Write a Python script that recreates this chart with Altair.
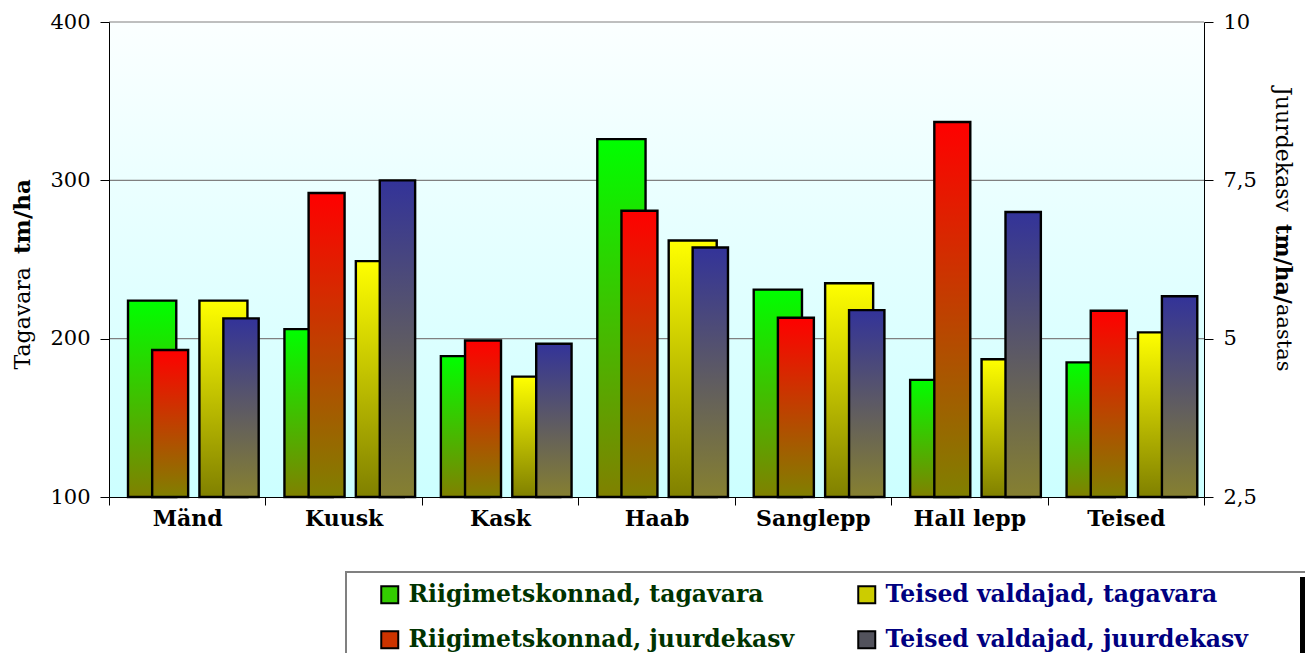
import json
import pandas as pd
import altair as alt

# ---- data ----
categories = ["Mänd", "Kuusk", "Kask", "Haab", "Sanglepp", "Hall lepp", "Teised"]
rmk_tagavara = [224, 206, 189, 326, 231, 174, 185]          # tm/ha (left axis)
teised_tagavara = [224, 249, 176, 262, 235, 187, 204]       # tm/ha (left axis)
rmk_juurdekasv = [4.82, 7.30, 4.97, 7.02, 5.33, 8.42, 5.44]  # tm/ha/aastas (right axis)
teised_juurdekasv = [5.32, 7.50, 4.92, 6.44, 5.45, 7.00, 5.67]

series_rmk = ["Riigimetskonnad, tagavara", "Riigimetskonnad, juurdekasv"]
series_teised = ["Teised valdajad, tagavara", "Teised valdajad, juurdekasv"]
left_ticks = [100, 200, 300, 400]
right_ticks = [2.5, 5, 7.5, 10]

# ---- layout / style ----
W, H = 1095, 475
FONT = "DejaVu Serif"
OLIVE = "#808000"

df = pd.DataFrame({
    "cat": categories,
    "idx": list(range(len(categories))),
    "rt": rmk_tagavara,
    "tt": teised_tagavara,
    "rj": rmk_juurdekasv,
    "tj": teised_juurdekasv,
})
one = pd.DataFrame({"k": [0]})


def grad(top, bottom):
    return alt.Gradient(
        gradient="linear", x1=0, x2=0, y1=0, y2=1,
        stops=[alt.GradientStop(offset=0, color=top),
               alt.GradientStop(offset=1, color=bottom)],
    )


cats_js = json.dumps(categories, ensure_ascii=False)
x_scale = alt.Scale(domain=[0, 7], nice=False, zero=False)
x_axis = alt.Axis(
    values=list(range(8)), labelExpr=f"{cats_js}[datum.value] || ''",
    labelOffset=W / 14, labelFlush=False, labelOverlap=False, labelBound=False,
    labelAngle=0, tickSize=8, tickColor="black", domainColor="black", grid=False,
    labelFont=FONT, labelFontWeight="bold", labelFontSize=22, labelColor="black",
    labelPadding=3, title=None, zindex=1,
)
left_axis = alt.Axis(
    orient="left", values=left_ticks, grid=False, tickSize=9, tickColor="black",
    domainColor="black", labelFont=FONT, labelFontSize=21, labelColor="black",
    labelPadding=10, title=None, zindex=1,
)
right_axis = alt.Axis(
    orient="right", values=right_ticks, grid=False, tickSize=9, tickColor="black",
    domainColor="black", labelFont=FONT, labelFontSize=21, labelColor="black",
    labelPadding=10, title=None, zindex=1,
    labelExpr="replace(toString(datum.value), '.', ',')",
)
left_scale = alt.Scale(domain=[100, 400], nice=False, zero=False)
right_scale = alt.Scale(domain=[2.5, 10], nice=False, zero=False)


def bars(field, start, end, top, bottom, right=False):
    if right:
        yenc = alt.Y(f"{field}:Q", scale=right_scale, axis=right_axis)
        base = right_ticks[0]
    else:
        yenc = alt.Y(f"{field}:Q", scale=left_scale, axis=left_axis)
        base = left_ticks[0]
    return (
        alt.Chart(df)
        .transform_calculate(x0=f"datum.idx + {start}", x1=f"datum.idx + {end}")
        .mark_bar(color=grad(top, bottom), stroke="black", strokeWidth=2.4)
        .encode(x=alt.X("x0:Q", scale=x_scale, axis=x_axis), x2="x1:Q",
                y=yenc, y2=alt.datum(base))
    )


bg = alt.Chart(one).mark_rect(color=grad("#fbffff", "#ccffff")).encode(
    x=alt.value(0), x2=alt.value(W), y=alt.value(0), y2=alt.value(H))

grid = alt.Chart(pd.DataFrame({"v": left_ticks[1:]})).mark_rule(
    color="#808080", strokeWidth=1.2).encode(
    y=alt.Y("v:Q", scale=left_scale, axis=left_axis))

green = bars("rt", 0.1215, 0.43, "#00ff00", OLIVE)
yellow = bars("tt", 0.578, 0.885, "#ffff00", OLIVE)
red = bars("rj", 0.276, 0.506, "#ff0000", OLIVE, right=True)
blue = bars("tj", 0.731, 0.957, "#333399", "#868030", right=True)


# axis titles (mixed weight, so drawn as text)
def label(txt, x, y, angle, align, weight="normal", size=22):
    return alt.Chart(one).mark_text(
        text=txt, angle=angle, align=align, baseline="middle", font=FONT,
        fontSize=size, fontWeight=weight, color="black").encode(
        x=alt.value(x), y=alt.value(y))


t1 = label("Tagavara", -86, 245, 270, "right")
t2 = label("tm/ha", -86, 232, 270, "left", "bold", 23)
t3 = label("Juurdekasv", 1174, 190, 90, "right")
t4 = label("tm/ha/", 1174, 202, 90, "left", "bold", 22)
t5 = label("aastas", 1174, 282, 90, "left", size=21)

# legend frame
frame = alt.Chart(one).mark_rect(fill="white", stroke="#808080", strokeWidth=2).encode(
    x=alt.value(237), x2=alt.value(1197), y=alt.value(550), y2=alt.value(720))
shadow = alt.Chart(one).mark_rect(fill="black").encode(
    x=alt.value(1191), x2=alt.value(1210), y=alt.value(555), y2=alt.value(720))


def legend_layer(names, colors, label_color, lx):
    return (
        alt.Chart(pd.DataFrame({"s": names}))
        .transform_filter("false")
        .mark_square(filled=True, stroke="black", strokeWidth=2)
        .encode(color=alt.Color(
            "s:N", scale=alt.Scale(domain=names, range=colors),
            legend=alt.Legend(
                orient="none", legendX=lx, legendY=561, direction="vertical",
                title=None, symbolType="square", symbolSize=289,
                symbolStrokeColor="black", symbolStrokeWidth=2,
                labelFont=FONT, labelFontWeight="bold", labelFontSize=23.5,
                labelColor=label_color, labelOffset=7, labelLimit=0,
                rowPadding=19, padding=0, symbolOpacity=1,
            )))
    )


legA = legend_layer(series_rmk, ["#33cc00", "#cc3300"], "#003300", 269)
legB = legend_layer(series_teised, ["#cccc00", "#52525c"], "#000080", 746)

left = alt.layer(bg, grid, green, yellow, frame, shadow, t1, t2, t3, t4, t5, legA)
right = alt.layer(red, blue, legB)

chart = (
    alt.layer(left, right)
    .resolve_scale(y="independent", color="independent")
    .properties(
        width=W, height=H,
        autosize=alt.AutoSizeParams(type="none"),
        padding={"left": 101, "top": 14, "right": 101, "bottom": 156},
    )
    .configure(font=FONT)
    .configure_view(stroke="transparent")
)

chart.save("out.html", embed_options={"renderer": "svg", "actions": False})
